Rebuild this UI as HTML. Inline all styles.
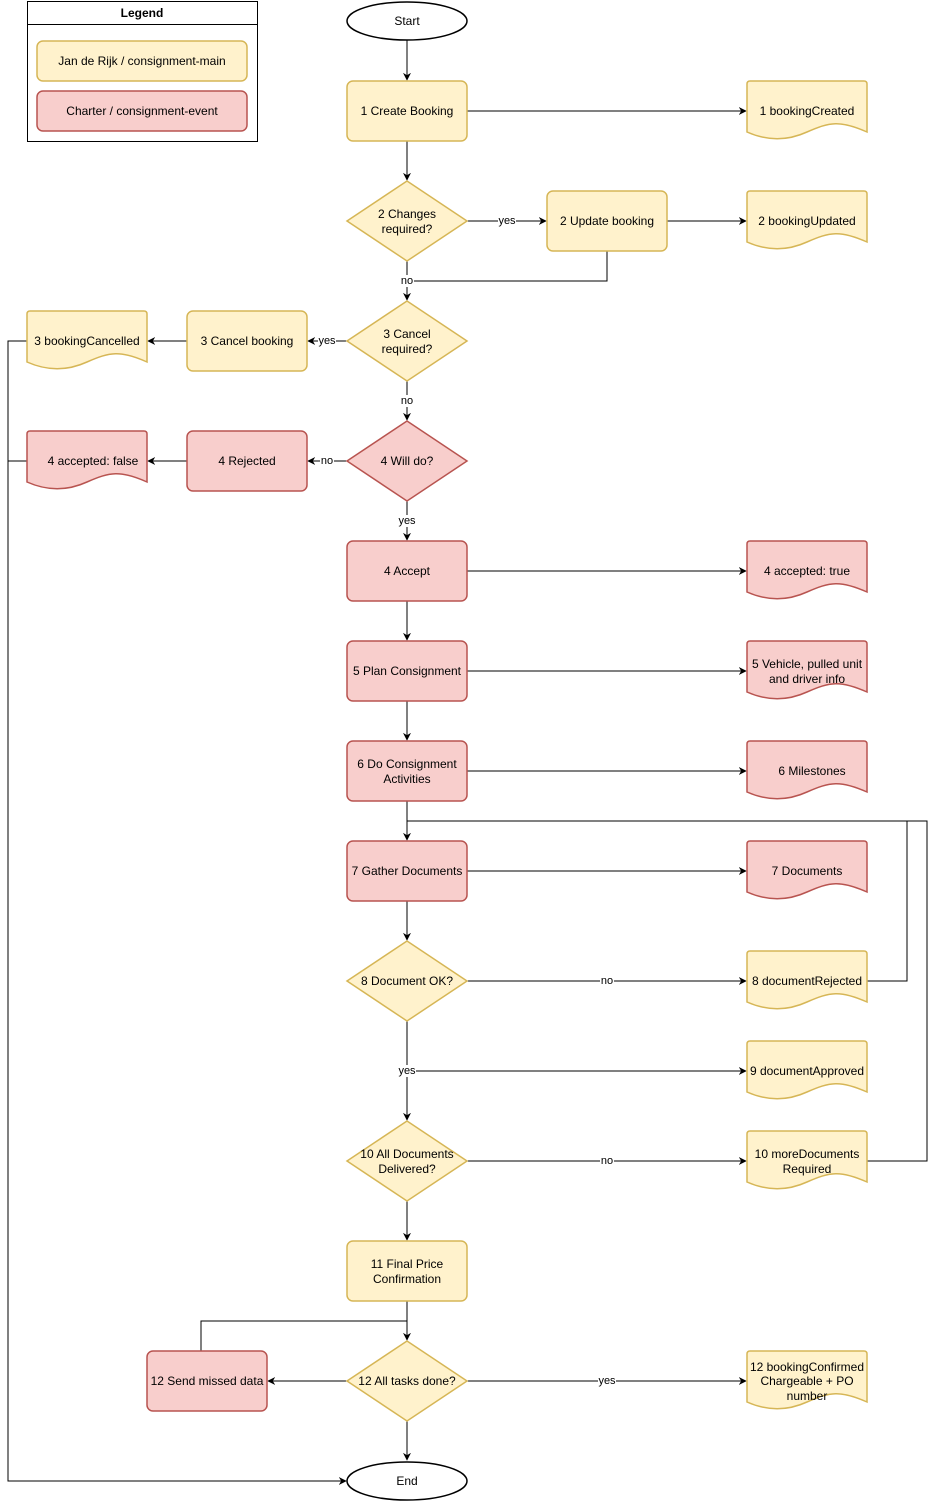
<!DOCTYPE html>
<html><head><meta charset="utf-8"><style>
html,body{margin:0;padding:0;background:#fff;}
svg{display:block;font-family:"Liberation Sans",Arial,sans-serif;font-size:12px;}
.y{fill:#fff2cc;stroke:#d6b656;stroke-width:1.5}
.r{fill:#f8cecc;stroke:#b85450;stroke-width:1.5}
.l{fill:none;stroke:#000;stroke-width:1}
text{text-anchor:middle;dominant-baseline:central;fill:#000}
.lb{font-size:11px}
</style></head><body>
<svg width="936" height="1502" viewBox="0 0 936 1502" xmlns="http://www.w3.org/2000/svg">
<defs><marker id="a" viewBox="0 0 10 10" refX="9" refY="5" markerWidth="8" markerHeight="8" orient="auto" markerUnits="userSpaceOnUse"><path d="M0,0 L10,5 L0,10 L3,5 Z" fill="#000"/></marker></defs>

<!-- Legend -->
<rect x="27.5" y="1.5" width="230" height="140" fill="#fff" stroke="#000"/>
<line x1="27.5" y1="24.5" x2="257.5" y2="24.5" stroke="#000"/>
<text x="142" y="13" style="font-weight:bold">Legend</text>
<rect class="y" x="37" y="41" width="210" height="40" rx="6"/>
<text x="142" y="61">Jan de Rijk / consignment-main</text>
<rect class="r" x="37" y="91" width="210" height="40" rx="6"/>
<text x="142" y="111">Charter / consignment-event</text>

<!-- connectors -->
<g class="l">
<path d="M407,40 V80" marker-end="url(#a)"/>
<path d="M467,111 H746" marker-end="url(#a)"/>
<path d="M407,141 V180" marker-end="url(#a)"/>
<path d="M467,221 H546" marker-end="url(#a)"/>
<path d="M667,221 H746" marker-end="url(#a)"/>
<path d="M407,261 V300" marker-end="url(#a)"/>
<path d="M607,251 V281 H407"/>
<path d="M347,341 H308" marker-end="url(#a)"/>
<path d="M187,341 H148" marker-end="url(#a)"/>
<path d="M27,341 H8 V1481 H346" marker-end="url(#a)"/>
<path d="M27,461 H8"/>
<path d="M407,381 V420" marker-end="url(#a)"/>
<path d="M347,461 H308" marker-end="url(#a)"/>
<path d="M187,461 H148" marker-end="url(#a)"/>
<path d="M407,501 V540" marker-end="url(#a)"/>
<path d="M467,571 H746" marker-end="url(#a)"/>
<path d="M407,601 V640" marker-end="url(#a)"/>
<path d="M467,671 H746" marker-end="url(#a)"/>
<path d="M407,701 V740" marker-end="url(#a)"/>
<path d="M467,771 H746" marker-end="url(#a)"/>
<path d="M407,801 V840" marker-end="url(#a)"/>
<path d="M407,821 H927 V1161 H867"/>
<path d="M867,981 H907 V821"/>
<path d="M467,871 H746" marker-end="url(#a)"/>
<path d="M407,901 V940" marker-end="url(#a)"/>
<path d="M467,981 H746" marker-end="url(#a)"/>
<path d="M407,1021 V1120" marker-end="url(#a)"/>
<path d="M407,1071 H746" marker-end="url(#a)"/>
<path d="M467,1161 H746" marker-end="url(#a)"/>
<path d="M407,1201 V1240" marker-end="url(#a)"/>
<path d="M407,1301 V1340" marker-end="url(#a)"/>
<path d="M201,1351 V1321 H407"/>
<path d="M347,1381 H268" marker-end="url(#a)"/>
<path d="M467,1381 H746" marker-end="url(#a)"/>
<path d="M407,1421 V1460" marker-end="url(#a)"/>
</g>

<!-- edge labels -->
<g class="lb">
<rect x="498" y="215" width="18" height="12" fill="#fff"/><text x="507" y="221">yes</text>
<rect x="400" y="275" width="14" height="12" fill="#fff"/><text x="407" y="281">no</text>
<rect x="318" y="335" width="18" height="12" fill="#fff"/><text x="327" y="341">yes</text>
<rect x="400" y="395" width="14" height="12" fill="#fff"/><text x="407" y="401">no</text>
<rect x="320" y="455" width="14" height="12" fill="#fff"/><text x="327" y="461">no</text>
<rect x="398" y="515" width="18" height="12" fill="#fff"/><text x="407" y="521">yes</text>
<rect x="600" y="975" width="14" height="12" fill="#fff"/><text x="607" y="981">no</text>
<rect x="398" y="1065" width="18" height="12" fill="#fff"/><text x="407" y="1071">yes</text>
<rect x="600" y="1155" width="14" height="12" fill="#fff"/><text x="607" y="1161">no</text>
<rect x="598" y="1375" width="18" height="12" fill="#fff"/><text x="607" y="1381">yes</text>
</g>

<!-- start/end -->
<ellipse cx="407" cy="21" rx="60" ry="19" fill="#fff" stroke="#000" stroke-width="1.5"/>
<text x="407" y="21">Start</text>
<ellipse cx="407" cy="1481" rx="60" ry="19" fill="#fff" stroke="#000" stroke-width="1.5"/>
<text x="407" y="1481">End</text>

<!-- process boxes -->
<rect class="y" x="347" y="81" width="120" height="60" rx="6"/><text x="407" y="111">1 Create Booking</text>
<rect class="y" x="547" y="191" width="120" height="60" rx="6"/><text x="607" y="221">2 Update booking</text>
<rect class="y" x="187" y="311" width="120" height="60" rx="6"/><text x="247" y="341">3 Cancel booking</text>
<rect class="r" x="187" y="431" width="120" height="60" rx="6"/><text x="247" y="461">4 Rejected</text>
<rect class="r" x="347" y="541" width="120" height="60" rx="6"/><text x="407" y="571">4 Accept</text>
<rect class="r" x="347" y="641" width="120" height="60" rx="6"/><text x="407" y="671">5 Plan Consignment</text>
<rect class="r" x="347" y="741" width="120" height="60" rx="6"/><text x="407" y="764">6 Do Consignment</text><text x="407" y="779">Activities</text>
<rect class="r" x="347" y="841" width="120" height="60" rx="6"/><text x="407" y="871">7 Gather Documents</text>
<rect class="y" x="347" y="1241" width="120" height="60" rx="6"/><text x="407" y="1264">11 Final Price</text><text x="407" y="1279">Confirmation</text>
<rect class="r" x="147" y="1351" width="120" height="60" rx="6"/><text x="207" y="1381">12 Send missed data</text>

<!-- diamonds -->
<path class="y" d="M407,181 L467,221 L407,261 L347,221 Z"/><text x="407" y="214">2 Changes</text><text x="407" y="229">required?</text>
<path class="y" d="M407,301 L467,341 L407,381 L347,341 Z"/><text x="407" y="334">3 Cancel</text><text x="407" y="349">required?</text>
<path class="r" d="M407,421 L467,461 L407,501 L347,461 Z"/><text x="407" y="461">4 Will do?</text>
<path class="y" d="M407,941 L467,981 L407,1021 L347,981 Z"/><text x="407" y="981">8 Document OK?</text>
<path class="y" d="M407,1121 L467,1161 L407,1201 L347,1161 Z"/><text x="407" y="1154">10 All Documents</text><text x="407" y="1169">Delivered?</text>
<path class="y" d="M407,1341 L467,1381 L407,1421 L347,1381 Z"/><text x="407" y="1381">12 All tasks done?</text>

<!-- documents -->
<g>
<path class="y" d="M747,84 Q747,81 750,81 H864 Q867,81 867,84 V132 C840,120 830,122 807,132 C785,142 765,140 747,132 Z"/><text x="807" y="111">1 bookingCreated</text>
<path class="y" d="M747,194 Q747,191 750,191 H864 Q867,191 867,194 V242 C840,230 830,232 807,242 C785,252 765,250 747,242 Z"/><text x="807" y="221">2 bookingUpdated</text>
<path class="y" d="M27,314 Q27,311 30,311 H144 Q147,311 147,314 V362 C120,350 110,352 87,362 C65,372 45,370 27,362 Z"/><text x="87" y="341">3 bookingCancelled</text>
<path class="r" d="M27,434 Q27,431 30,431 H144 Q147,431 147,434 V482 C120,470 110,472 87,482 C65,492 45,490 27,482 Z"/><text x="93" y="461">4 accepted: false</text>
<path class="r" d="M747,544 Q747,541 750,541 H864 Q867,541 867,544 V592 C840,580 830,582 807,592 C785,602 765,600 747,592 Z"/><text x="807" y="571">4 accepted: true</text>
<path class="r" d="M747,644 Q747,641 750,641 H864 Q867,641 867,644 V692 C840,680 830,682 807,692 C785,702 765,700 747,692 Z"/><text x="807" y="664">5 Vehicle, pulled unit</text><text x="807" y="679">and driver info</text>
<path class="r" d="M747,744 Q747,741 750,741 H864 Q867,741 867,744 V792 C840,780 830,782 807,792 C785,802 765,800 747,792 Z"/><text x="812" y="771">6 Milestones</text>
<path class="r" d="M747,844 Q747,841 750,841 H864 Q867,841 867,844 V892 C840,880 830,882 807,892 C785,902 765,900 747,892 Z"/><text x="807" y="871">7 Documents</text>
<path class="y" d="M747,954 Q747,951 750,951 H864 Q867,951 867,954 V1002 C840,990 830,992 807,1002 C785,1012 765,1010 747,1002 Z"/><text x="807" y="981">8 documentRejected</text>
<path class="y" d="M747,1044 Q747,1041 750,1041 H864 Q867,1041 867,1044 V1092 C840,1080 830,1082 807,1092 C785,1102 765,1100 747,1092 Z"/><text x="807" y="1071">9 documentApproved</text>
<path class="y" d="M747,1134 Q747,1131 750,1131 H864 Q867,1131 867,1134 V1182 C840,1170 830,1172 807,1182 C785,1192 765,1190 747,1182 Z"/><text x="807" y="1154">10 moreDocuments</text><text x="807" y="1169">Required</text>
<path class="y" d="M747,1354 Q747,1351 750,1351 H864 Q867,1351 867,1354 V1402 C840,1390 830,1392 807,1402 C785,1412 765,1410 747,1402 Z"/><text x="807" y="1367">12 bookingConfirmed</text><text x="807" y="1381">Chargeable + PO</text><text x="807" y="1396">number</text>
</g>
</svg>
</body></html>
